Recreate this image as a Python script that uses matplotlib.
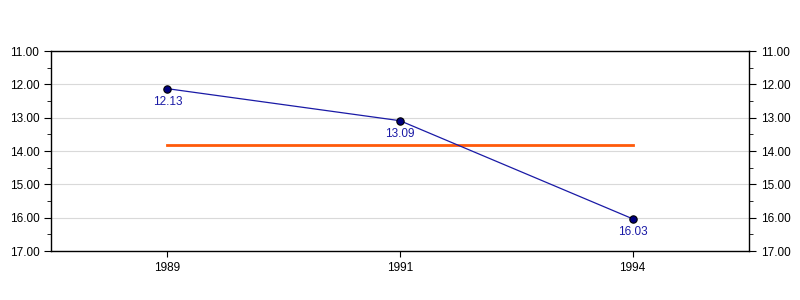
import matplotlib
matplotlib.use("Agg")
import matplotlib.pyplot as plt
from matplotlib.ticker import MultipleLocator, FormatStrFormatter

plt.rcParams['font.family'] = ['Liberation Sans', 'DejaVu Sans']

years = ["1989", "1991", "1994"]
values = [12.13, 13.09, 16.03]
avg_level = 13.82

fig = plt.figure(figsize=(8, 3), dpi=100)
ax = fig.add_axes([0.064, 0.163, 0.872, 0.667])
x = list(range(len(years)))

ax.plot(x, values, color='#1a1aa6', lw=0.9, zorder=3)
ax.scatter(x, values, s=28, color='#000080', edgecolor='black', lw=0.8, zorder=4)
for xi, v in zip(x, values):
    ax.annotate(f"{v:.2f}", (xi, v), xytext=(0, -5), textcoords='offset points',
                ha='center', va='top', fontsize=8.5, color='#1a1aa6')
ax.plot([x[0], x[-1]], [avg_level, avg_level], color='#ff5a0a', lw=2, zorder=2)

ax.set_xlim(-0.5, len(years) - 0.5)
ax.set_ylim(17, 11)
ax.set_xticks(x)
ax.set_xticklabels(years, fontsize=8.5)
ax.yaxis.set_major_locator(MultipleLocator(1))
ax.yaxis.set_minor_locator(MultipleLocator(0.5))
ax.yaxis.set_major_formatter(FormatStrFormatter('%.2f'))
ax.tick_params(axis='y', which='major', length=5, labelsize=8.5, right=True, labelright=True)
ax.tick_params(axis='y', which='minor', length=3, right=True)
ax.tick_params(axis='x', length=4)
ax.grid(axis='y', color='#d9d9d9', lw=0.8)
ax.set_axisbelow(True)
for s in ax.spines.values():
    s.set_linewidth(1)

fig.savefig("out.png")
